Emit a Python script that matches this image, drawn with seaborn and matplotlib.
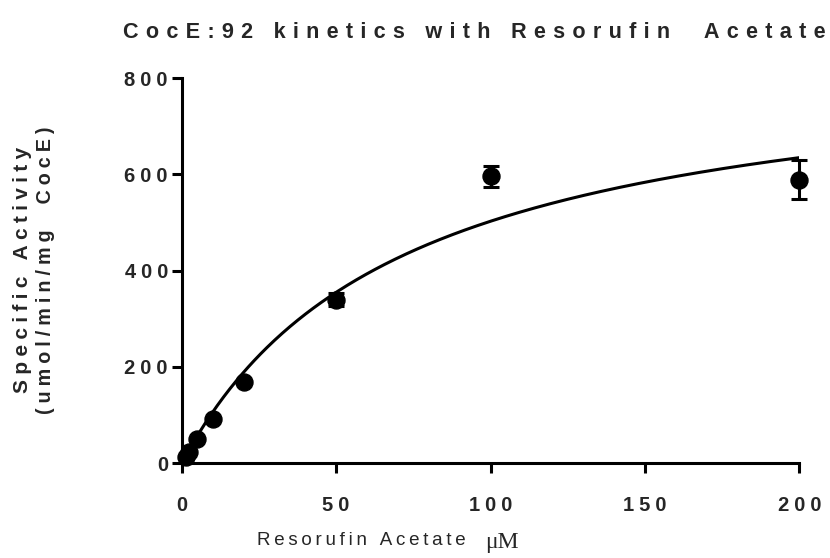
import numpy as np
import pandas as pd
import matplotlib
matplotlib.use("Agg")
import matplotlib.pyplot as plt
import seaborn as sns

# ---- data ----
conc_uM = [1.25, 2.5, 5, 10, 20, 50, 100, 200]
activity = [13, 23, 50, 92, 169, 340, 596, 589]
activity_sem = [0, 0, 0, 0, 0, 14, 22, 40]
# Michaelis-Menten fit parameters
vmax = 861.0
km = 71.3

x_ticks = [0, 50, 100, 150, 200]
y_ticks = [0, 200, 400, 600, 800]
title = "CocE:92 kinetics with Resorufin  Acetate"
ylabel_1 = "Specific Activity"
ylabel_2 = "(umol/min/mg  CocE)"
xlabel_txt = "Resorufin Acetate"
xlabel_unit = "\u03bcM"

sns.set_style("ticks")
plt.rcParams["font.family"] = ["Liberation Sans", "DejaVu Sans"]


def spaced(s, sep="\u2009"):
    return sep.join(list(s))


df = pd.DataFrame({"conc": conc_uM, "act": activity, "sem": activity_sem})
xfit = np.linspace(0, 200, 400)
fit = pd.DataFrame({"conc": xfit, "act": vmax * xfit / (km + xfit)})

fig = plt.figure(figsize=(8.30, 5.58), dpi=100)
ax = fig.add_axes([0.219, 0.170, 0.744, 0.690])

sns.lineplot(data=fit, x="conc", y="act", ax=ax, color="black", linewidth=2.2)
ax.errorbar(df["conc"], df["act"], yerr=df["sem"], fmt="none", ecolor="black",
            elinewidth=2.2, capsize=6, capthick=2.2, clip_on=False, zorder=3)
sns.scatterplot(data=df, x="conc", y="act", ax=ax, color="black", s=150,
                edgecolor="black", zorder=4, clip_on=False)

ax.set_xlim(0, 200)
ax.set_ylim(0, 800)
ax.set_xticks(x_ticks)
ax.set_yticks(y_ticks)
ax.set_xticklabels([spaced(str(t), "\u2005") for t in x_ticks], fontsize=14.5, fontweight="bold")
ax.set_yticklabels([spaced(str(t), "\u2005") for t in y_ticks], fontsize=14.5, fontweight="bold")
ax.tick_params(axis="both", length=7, width=2.2, color="black")
ax.tick_params(axis="x", pad=17)
ax.tick_params(axis="y", pad=3)
for sp in ["left", "bottom"]:
    ax.spines[sp].set_linewidth(2.2)
    ax.spines[sp].set_color("black")
for sp in ["top", "right"]:
    ax.spines[sp].set_visible(False)
ax.set_xlabel("")
ax.set_ylabel("")

fig.text(0.572, 0.942, spaced(title, "\u2004"), ha="center", va="center",
         fontsize=15.6, fontweight="bold")
fig.text(0.027, 0.516, spaced(ylabel_1, "\u2005"), rotation=90, ha="center", va="center",
         fontsize=15, fontweight="bold")
fig.text(0.055, 0.516, spaced(ylabel_2, "\u2005"), rotation=90, ha="center", va="center",
         fontsize=14.2, fontweight="bold")
fig.text(0.435, 0.032, spaced(xlabel_txt), ha="center", va="center",
         fontsize=13.5)
fig.text(0.605, 0.027, xlabel_unit, ha="center", va="center", fontsize=17,
         family=["Liberation Serif", "DejaVu Serif"])

fig.savefig("out.png", dpi=100)
